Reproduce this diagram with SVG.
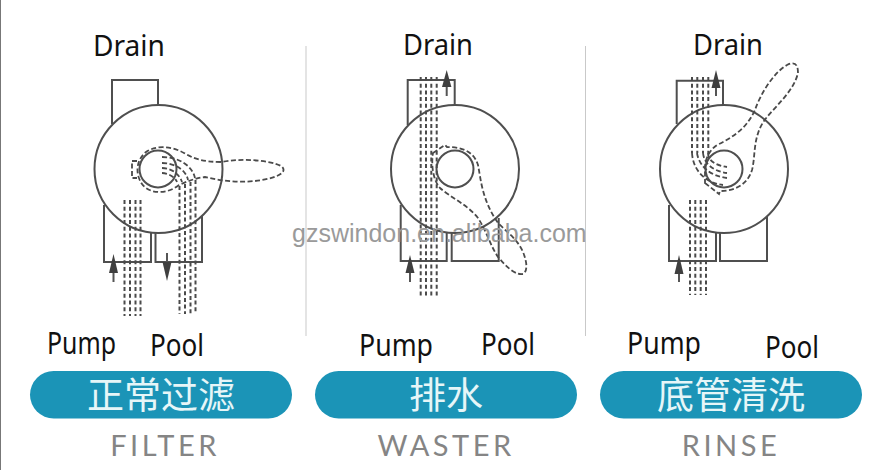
<svg xmlns="http://www.w3.org/2000/svg" width="877" height="470" viewBox="0 0 877 470">
<style>
.body{fill:#fff;stroke:#4f4f4f;stroke-width:2}
.box{fill:none;stroke:#4f4f4f;stroke-width:2}
.flow{fill:none;stroke:#4a4a4a;stroke-width:2;stroke-dasharray:4 2.700}
.loop{fill:none;stroke:#4a4a4a;stroke-width:1.800;stroke-dasharray:5 2.500}
.shaft{fill:none;stroke:#555;stroke-width:2}
.tip{fill:#3f3f3f}
.lbl{font-family:"Noto Sans","Open Sans",sans-serif;fill:#111}
.pill{fill:#1b94b7}
.cn{font-family:"Noto Sans CJK SC",sans-serif;font-size:37px;fill:#e6f6f8;text-anchor:middle}
.en{font-family:"Lato","Noto Sans",sans-serif;font-size:29px;font-weight:400;fill:#858585;text-anchor:middle;letter-spacing:3.500px}
.wm{font-family:"Liberation Sans",sans-serif;font-size:25px;fill:#9a9a9a}
.div{stroke:#c9c9c9;stroke-width:1;fill:none}
</style>
<rect width="877" height="470" fill="#fff"/>
<path d="M0.500 0V470" stroke="#777" stroke-width="1"/>
<path class="div" d="M306 46V336M585.500 46V336"/>
<g id="filter">
<path class="box" d="M112 124V80H158V106"/>
<path class="box" d="M104 205V262H151V232M155.500 232V262H202V215"/>
<circle class="body" cx="158.500" cy="169" r="64"/>
<circle class="box" cx="158" cy="169" r="18.500"/>
<path class="flow" d="M124.500 200V316M130 200V316M135.500 200V316M140.500 200V316M179.500 186V314M185 184V314M190.500 182V314M195.500 180V314"/>
<path class="loop" d="M137 161H132V178H137"/>
<path class="loop" d="M179 185C168 194 150 195 142 184C135 174 136 160 146 152C156 145 172 146 184 153C194 159 204 162 222 162C240 158 270 160 281 166C288 171 280 177 262 180C245 183 225 182 205 177C196 178 188 181 179 185"/>
<path class="loop" d="M162 157C178 157 192 165 195 178M162 163C175 163 186 170 188 180M162 168C172 168 180 175 182 182M162 173C168 173 175 177 177 182"/>
<path class="shaft" d="M113.500 282V265"/><path class="tip" d="M113.500 254L109 273H118Z"/>
<path class="shaft" d="M167 253V268"/><path class="tip" d="M167 281L162.500 262H171.500Z"/>
</g>
<g id="waster">
<path class="box" d="M407.700 125V80H454.700V106"/>
<path class="box" d="M400.700 205V261H446.700V232M451.700 232V261H498.700V218"/>
<circle class="body" cx="455" cy="169" r="64"/>
<circle class="box" cx="455" cy="169" r="18.500"/>
<path class="flow" d="M420.700 77V296M426 77V296M431.300 77V296M436.700 77V296"/>
<path class="loop" d="M433 153L445 145L447 147C458 147 473 149 478 165C481 180 482 200 498 223C507 232 518 240 523 252C527 262 528 271 523 274C517 275 510 271 498 257C490 245 487 232 478 218C468 205 450 197 440 188C433 180 431 165 433 153Z"/>
<path class="shaft" d="M446.700 96V82"/><path class="tip" d="M446.700 70L442 87H451.400Z"/>
<path class="shaft" d="M410 282V270"/><path class="tip" d="M410 255L405.500 273H414.500Z"/>
</g>
<g id="rinse">
<path class="box" d="M676.700 124V80.700H723V105"/>
<path class="box" d="M669 205V261H716V232M720 232V261H767V216"/>
<circle class="body" cx="724" cy="169" r="64"/>
<circle class="box" cx="724" cy="169" r="18.500"/>
<path class="flow" d="M692 77V153M697.300 77V153M703 77V153M708.300 77V153M690 200V295M695.300 200V295M700.700 200V295M706 200V295"/>
<path class="loop" d="M708 153C708 160 714 165 727 167M703 153C704 163 712 171 727 173M697 153C699 166 710 176 727 178M692 153C693 170 705 183 723 185"/>
<path class="loop" d="M705 183L719 194L720 191C733 191 747 186 752 170C756 155 752 135 767 117C778 104 794 90 798 73C798 62 793 62 787 65C773 73 760 95 755 110C748 125 738 135 717 145C708 151 704 162 705 173C705 177 705 180 705 183Z"/>
<path class="shaft" d="M716 96V82"/><path class="tip" d="M716 70L711.500 88H720.500Z"/>
<path class="shaft" d="M679 282V272"/><path class="tip" d="M679 255L674.500 274H683.500Z"/>
</g>
<text class="wm" x="292" y="242">gzswindon.en.alibaba.com</text>
<g id="labels">
<text class="lbl" x="93" y="56" font-size="29" textLength="72" lengthAdjust="spacingAndGlyphs">Drain</text>
<text class="lbl" x="403" y="55" font-size="29" textLength="70" lengthAdjust="spacingAndGlyphs">Drain</text>
<text class="lbl" x="693" y="55" font-size="29" textLength="70" lengthAdjust="spacingAndGlyphs">Drain</text>
<text class="lbl" x="47" y="354" font-size="30" textLength="69" lengthAdjust="spacingAndGlyphs">Pump</text>
<text class="lbl" x="150" y="356" font-size="30" textLength="54" lengthAdjust="spacingAndGlyphs">Pool</text>
<text class="lbl" x="359" y="356" font-size="31" textLength="74" lengthAdjust="spacingAndGlyphs">Pump</text>
<text class="lbl" x="481" y="355" font-size="31" textLength="54" lengthAdjust="spacingAndGlyphs">Pool</text>
<text class="lbl" x="627" y="354" font-size="31" textLength="74" lengthAdjust="spacingAndGlyphs">Pump</text>
<text class="lbl" x="765" y="358" font-size="31" textLength="54" lengthAdjust="spacingAndGlyphs">Pool</text>
</g>
<g id="tag-filter"><rect class="pill" x="30" y="371" width="262" height="47.500" rx="23.700"/><text class="cn" x="161" y="409">正常过滤</text><text class="en" x="165" y="456">FILTER</text></g>
<g id="tag-waster"><rect class="pill" x="315" y="371" width="262" height="47.500" rx="23.700"/><text class="cn" x="446" y="409">排水</text><text class="en" x="446" y="456">WASTER</text></g>
<g id="tag-rinse"><rect class="pill" x="600" y="371" width="262" height="47.500" rx="23.700"/><text class="cn" x="731" y="409">底管清洗</text><text class="en" x="731" y="456">RINSE</text></g>
</svg>
